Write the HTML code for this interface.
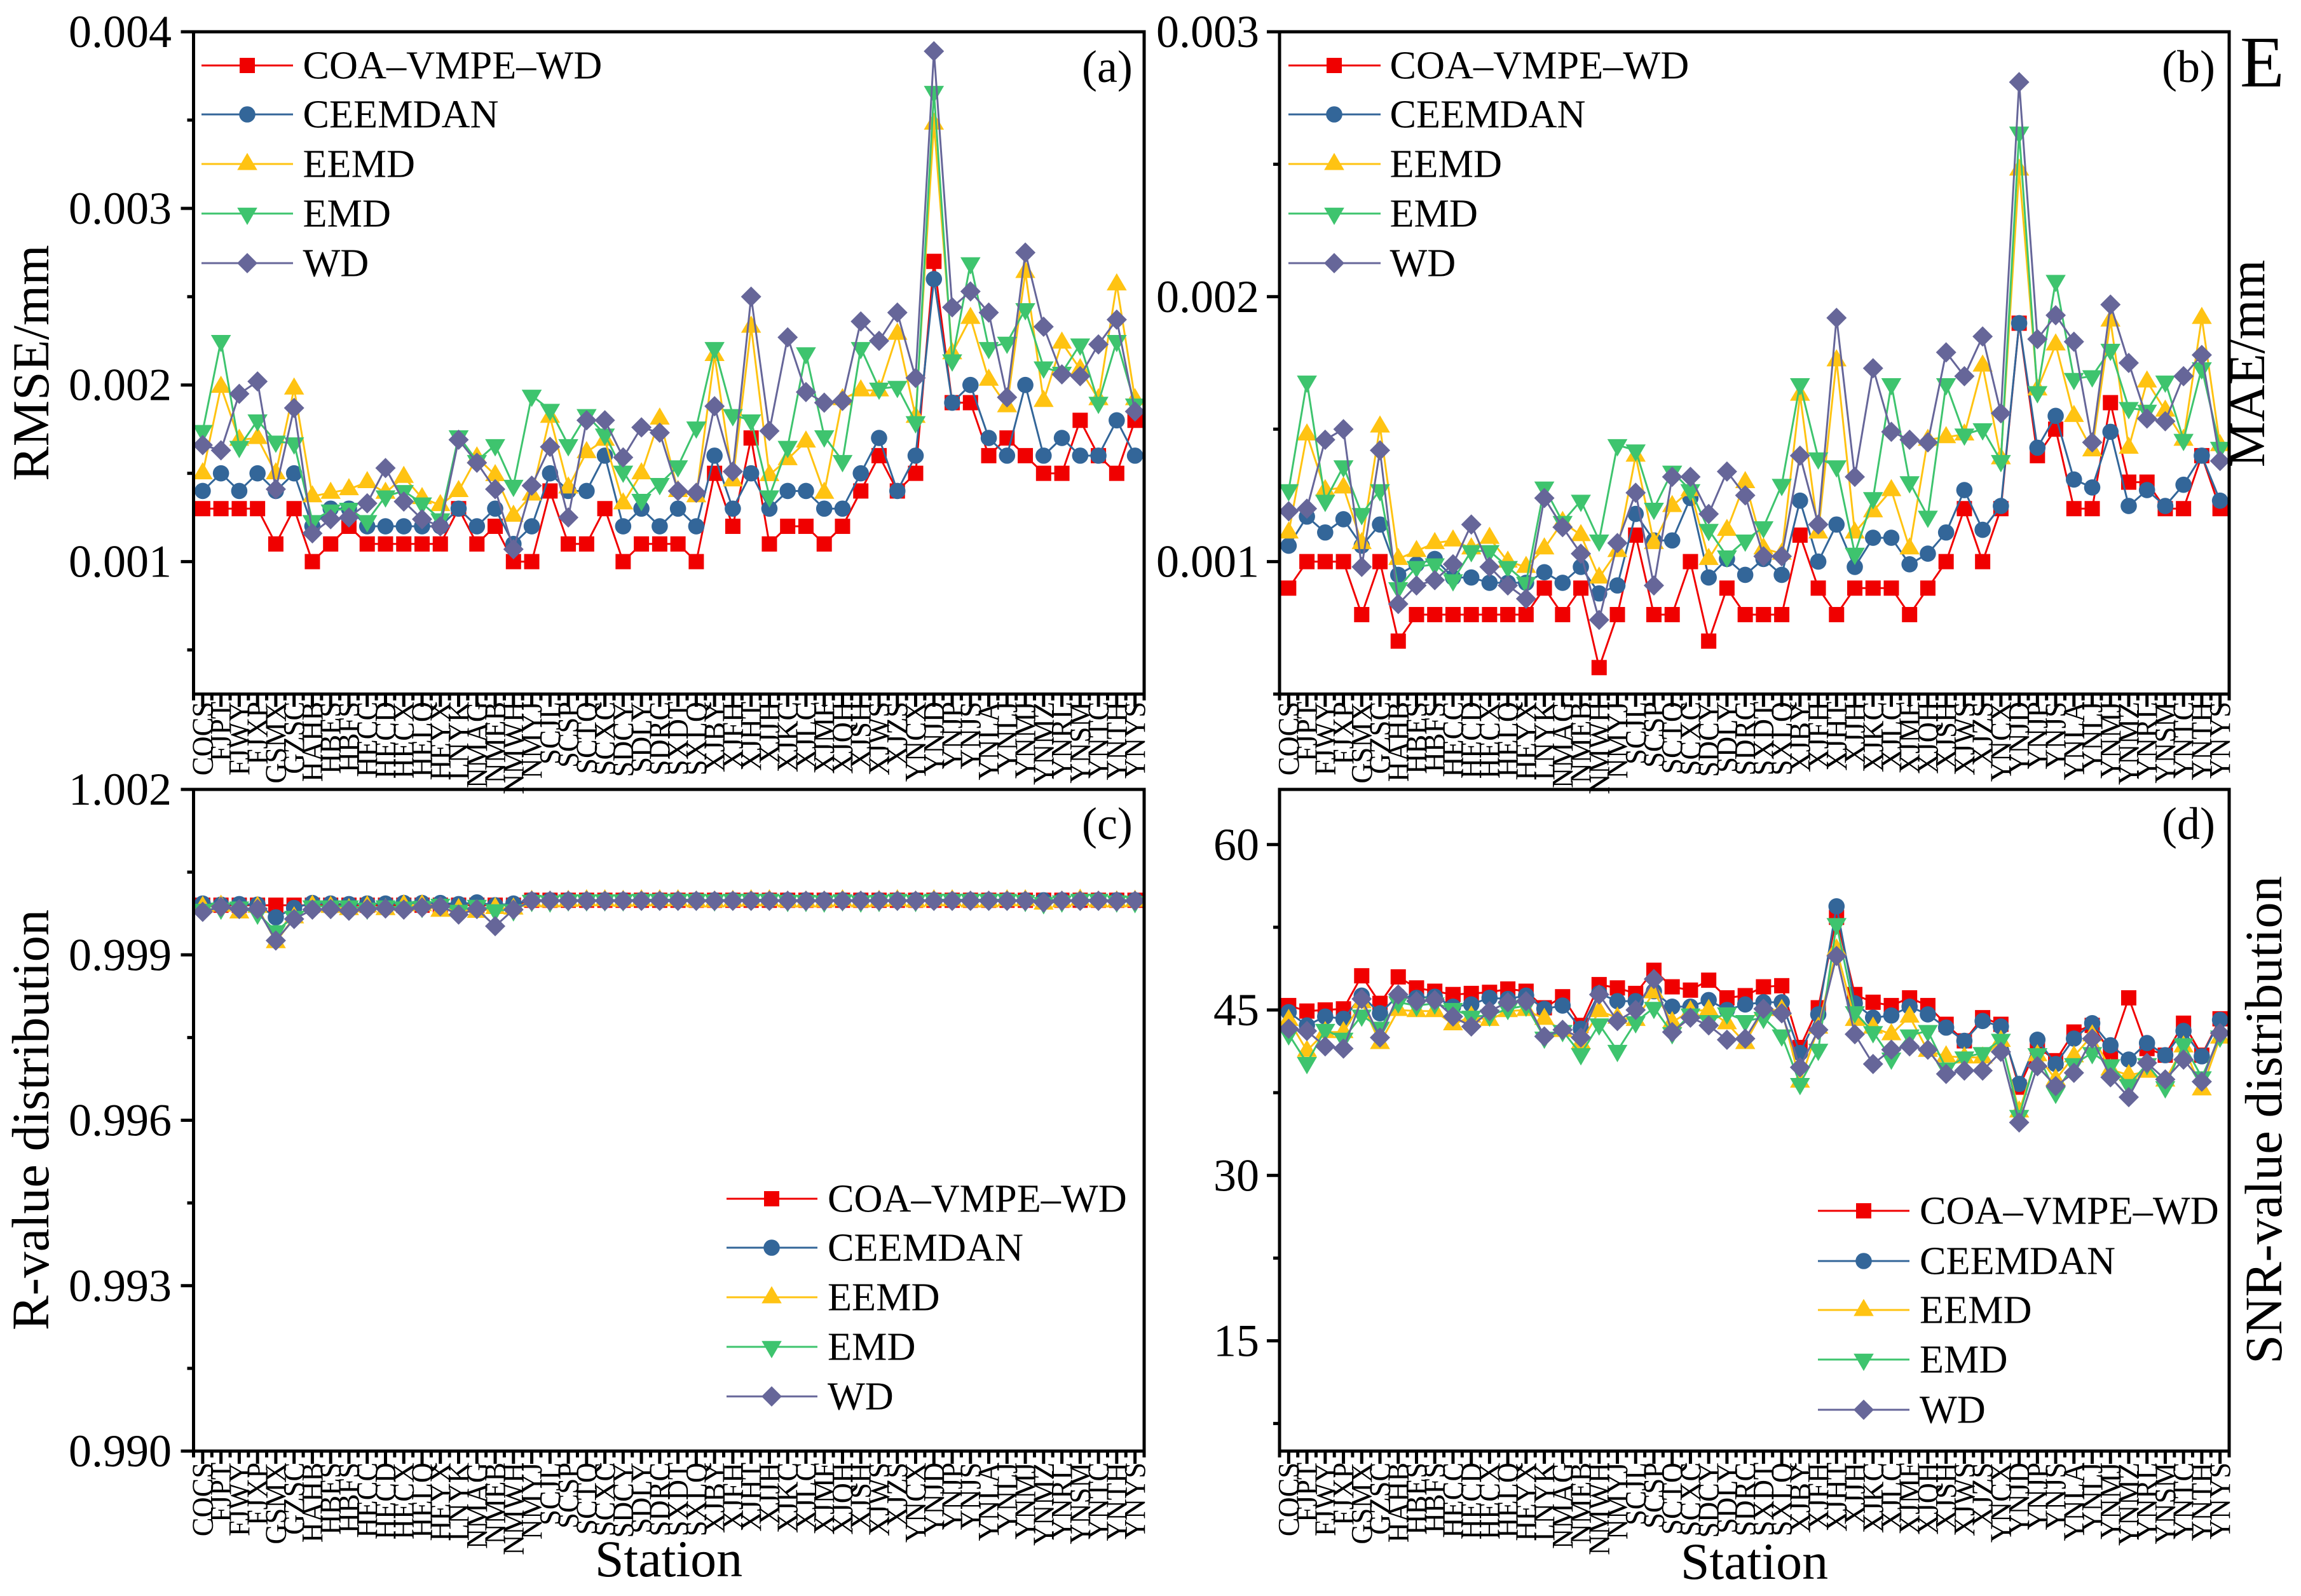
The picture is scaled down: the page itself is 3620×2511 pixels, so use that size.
<!DOCTYPE html>
<html lang="en">
<head>
<meta charset="utf-8">
<title>Denoising method comparison across stations</title>
<style>
html,body{margin:0;padding:0;background:#fff;}
svg{display:block;font-family:"Liberation Serif","Times New Roman",serif;}
</style>
</head>
<body>
<svg id="figure" xmlns="http://www.w3.org/2000/svg" width="3620" height="2511" viewBox="0 0 3620 2511">
<rect x="0" y="0" width="3620" height="2511" fill="#ffffff"/>
<text x="3524" y="136" font-size="114" fill="#000">E</text>
</svg>
<script>
const stations = ["COCS","FJPT","FJWY","FJXP","GSMX","GZSC","HAHB","HBES","HBFS","HECC","HECD","HECX","HELQ","HEYX","LNYK","NMAG","NMEB","NMWH","NMYJ","SCJL","SCSP","SCTQ","SCXC","SDCY","SDLY","SDRC","SXDT","SXLQ","XJBY","XJFH","XJHT","XJJH","XJKC","XJLC","XJMF","XJQH","XJSH","XJWS","XJZS","YNCX","YNJD","YNJP","YNJS","YNLA","YNLJ","YNMJ","YNMZ","YNRL","YNSM","YNTC","YNTH","YNYS"];
const seriesNames = ["COA–VMPE–WD","CEEMDAN","EEMD","EMD","WD"];

/* RMSE, in units of 0.001 mm */
const rmseCoa = [1.3,1.3,1.3,1.3,1.1,1.3,1.0,1.1,1.2,1.1,1.1,1.1,1.1,1.1,1.3,1.1,1.2,1.0,1.0,1.4,1.1,1.1,1.3,1.0,1.1,1.1,1.1,1.0,1.5,1.2,1.7,1.1,1.2,1.2,1.1,1.2,1.4,1.6,1.4,1.5,2.7,1.9,1.9,1.6,1.7,1.6,1.5,1.5,1.8,1.6,1.5,1.8];
const rmseCeemdan = [1.4,1.5,1.4,1.5,1.4,1.5,1.2,1.3,1.3,1.2,1.2,1.2,1.2,1.2,1.3,1.2,1.3,1.1,1.2,1.5,1.4,1.4,1.6,1.2,1.3,1.2,1.3,1.2,1.6,1.3,1.5,1.3,1.4,1.4,1.3,1.3,1.5,1.7,1.4,1.6,2.6,1.9,2.0,1.7,1.6,2.0,1.6,1.7,1.6,1.6,1.8,1.6];
const rmseEemd = [1.5,1.99,1.69,1.7,1.5,1.98,1.37,1.39,1.41,1.45,1.39,1.48,1.36,1.32,1.4,1.59,1.49,1.26,1.38,1.82,1.42,1.62,1.69,1.33,1.5,1.81,1.4,1.37,2.17,1.46,2.33,1.49,1.58,1.68,1.39,1.92,1.97,1.97,2.29,1.82,3.48,2.18,2.38,2.03,1.88,2.64,1.91,2.24,2.09,1.92,2.57,1.92];
const rmseEmd = [1.74,2.25,1.65,1.8,1.68,1.67,1.23,1.29,1.3,1.23,1.37,1.4,1.33,1.24,1.71,1.57,1.66,1.43,1.94,1.86,1.66,1.83,1.72,1.51,1.35,1.44,1.54,1.76,2.21,1.83,1.8,1.37,1.65,2.18,1.71,1.57,2.21,1.98,1.99,1.79,3.66,2.14,2.69,2.21,2.24,2.43,2.1,2.07,2.23,1.9,2.25,1.89];
const rmseWd = [1.66,1.63,1.95,2.02,1.41,1.87,1.16,1.24,1.25,1.33,1.53,1.34,1.24,1.2,1.69,1.56,1.41,1.07,1.43,1.65,1.25,1.8,1.8,1.59,1.76,1.73,1.4,1.39,1.88,1.51,2.5,1.74,2.27,1.96,1.9,1.91,2.36,2.25,2.41,2.04,3.89,2.44,2.53,2.41,1.93,2.75,2.33,2.06,2.05,2.23,2.37,1.85];

/* MAE, in units of 0.001 mm */
const maeCoa = [0.9,1.0,1.0,1.0,0.8,1.0,0.7,0.8,0.8,0.8,0.8,0.8,0.8,0.8,0.9,0.8,0.9,0.6,0.8,1.1,0.8,0.8,1.0,0.7,0.9,0.8,0.8,0.8,1.1,0.9,0.8,0.9,0.9,0.9,0.8,0.9,1.0,1.2,1.0,1.2,1.9,1.4,1.5,1.2,1.2,1.6,1.3,1.3,1.2,1.2,1.4,1.2];
const maeCeemdan = [1.06,1.17,1.11,1.16,1.06,1.14,0.95,0.99,1.01,0.94,0.94,0.92,0.92,0.92,0.96,0.92,0.98,0.88,0.91,1.18,1.08,1.08,1.24,0.94,1.01,0.95,1.01,0.95,1.23,1.0,1.14,0.98,1.09,1.09,0.99,1.03,1.11,1.27,1.12,1.21,1.9,1.43,1.55,1.31,1.28,1.49,1.21,1.27,1.21,1.29,1.4,1.23];
const maeEemd = [1.11,1.48,1.27,1.28,1.07,1.51,1.01,1.04,1.07,1.08,1.05,1.09,1.0,0.98,1.05,1.15,1.1,0.94,1.04,1.4,1.07,1.21,1.27,1.01,1.12,1.3,1.05,1.03,1.63,1.11,1.76,1.11,1.19,1.27,1.05,1.46,1.47,1.48,1.74,1.39,2.48,1.65,1.82,1.55,1.42,1.91,1.43,1.68,1.57,1.46,1.92,1.44];
const maeEmd = [1.27,1.68,1.23,1.36,1.18,1.27,0.9,0.98,0.99,0.93,1.04,1.04,0.98,0.92,1.28,1.15,1.23,1.08,1.44,1.42,1.2,1.34,1.27,1.12,1.02,1.08,1.13,1.29,1.67,1.39,1.36,1.03,1.24,1.67,1.3,1.17,1.67,1.48,1.5,1.38,2.62,1.64,2.06,1.69,1.7,1.8,1.58,1.57,1.68,1.46,1.73,1.43];
const maeWd = [1.19,1.2,1.46,1.5,0.98,1.42,0.84,0.91,0.93,0.99,1.14,0.98,0.91,0.86,1.24,1.13,1.03,0.78,1.07,1.26,0.91,1.32,1.32,1.18,1.34,1.25,1.02,1.02,1.4,1.14,1.92,1.32,1.73,1.49,1.46,1.45,1.79,1.7,1.85,1.56,2.81,1.84,1.93,1.83,1.45,1.97,1.75,1.54,1.53,1.7,1.78,1.38];

/* R value */
const rCoa = [0.9999,0.9999,0.9999,0.9999,0.9999,0.9999,0.9999,0.9999,0.9999,0.9999,0.9999,0.9999,0.9999,0.9999,0.9999,0.9999,0.9999,0.9999,0.99999,0.99999,0.99999,0.99999,0.99999,0.99999,0.99999,0.99999,0.99999,0.99999,0.99999,0.99999,0.99999,0.99999,0.99999,0.99999,0.99999,0.99999,0.99999,0.99999,0.99999,0.99999,0.99999,0.99999,0.99999,0.99999,0.99999,0.99999,0.99999,0.99999,0.99999,0.99999,0.99999,0.99999];
const rCeemdan = [0.99993,0.99991,0.99992,0.99991,0.99968,0.99985,0.99994,0.99993,0.99992,0.99993,0.99993,0.99994,0.99994,0.99994,0.99992,0.99995,0.9999,0.99993,0.99999,0.99999,0.99999,0.99999,0.99999,0.99999,0.99999,0.99999,0.99999,0.99999,0.99999,0.99999,0.99999,0.99999,0.99999,0.99999,0.99999,0.99999,0.99999,0.99999,0.99999,0.99999,0.99999,0.99999,0.99999,0.99999,0.99999,0.99999,0.99999,0.99999,0.99999,0.99999,0.99999,0.99999];
const rEemd = [0.99987,0.99989,0.99977,0.99987,0.99923,0.99968,0.99989,0.99987,0.99983,0.99988,0.99983,0.9999,0.9999,0.9998,0.99983,0.99978,0.99985,0.99984,0.99998,0.99997,0.99998,0.99999,0.99999,0.99998,0.99999,0.99999,0.99999,0.99997,0.99997,0.99998,0.99999,0.99999,0.99997,0.99997,0.99997,0.99999,0.99997,0.99998,0.99999,0.99997,0.99999,0.99999,0.99997,0.99997,0.99999,0.99999,0.99993,0.99997,1.0,0.99997,0.99997,0.99998];
const rEmd = [0.99982,0.99984,0.99986,0.99975,0.99943,0.99969,0.99988,0.99988,0.99988,0.99984,0.99988,0.99986,0.99987,0.99991,0.9998,0.99989,0.99981,0.99981,0.99998,0.99997,0.99999,0.99999,0.99999,0.99999,1.0,1.0,1.0,1.0,0.99999,1.0,1.0,1.0,0.99998,0.99998,0.99997,0.99999,0.99997,0.99998,1.0,0.99998,1.0,1.0,1.0,1.0,1.0,0.99998,0.99994,0.99997,1.0,1.0,0.99997,0.99996];
const rWd = [0.99978,0.99987,0.99983,0.99983,0.99926,0.99965,0.99982,0.99983,0.9998,0.99983,0.99984,0.99982,0.99986,0.99988,0.99973,0.99983,0.99952,0.99982,0.99998,0.99998,0.99998,0.99998,0.99998,0.99998,0.99998,0.99998,0.99998,0.99998,0.99998,0.99998,0.99998,0.99998,0.99998,0.99998,0.99998,0.99998,0.99998,0.99998,0.99998,0.99998,0.99998,0.99998,0.99998,0.99998,0.99998,0.99998,0.99995,0.99998,0.99998,0.99998,0.99997,0.99998];

/* SNR */
const snrCoa = [45.4,44.9,45.0,45.1,48.1,45.6,48.0,47.0,46.7,46.4,46.5,46.6,46.9,46.7,45.2,46.2,43.6,47.3,47.0,46.5,48.6,47.1,46.8,47.7,46.1,46.3,47.1,47.2,41.6,45.2,53.4,46.4,45.7,45.4,46.1,45.4,43.7,42.2,44.3,43.7,38.0,41.7,40.4,43.0,43.6,41.2,46.1,41.5,40.9,43.8,40.9,44.2];
const snrCeemdan = [44.8,43.6,44.4,44.2,46.3,44.7,46.3,46.1,46.2,45.3,45.5,46.1,46.0,46.3,45.1,45.4,43.3,46.5,45.8,45.8,46.7,45.3,45.3,45.9,45.0,45.5,45.7,45.7,41.1,44.6,54.4,45.6,44.3,44.5,45.3,44.6,43.4,42.2,44.0,43.5,38.3,42.3,40.1,42.4,43.8,41.8,40.5,42.0,40.9,43.1,40.8,44.1];
const snrEemd = [44.1,41.3,43.0,43.0,45.7,42.0,45.0,44.9,44.9,43.7,44.4,44.1,44.9,45.0,44.2,43.1,42.0,44.9,44.3,44.1,46.6,43.9,44.9,45.0,43.8,42.0,45.0,45.0,38.5,43.4,50.5,44.1,43.4,42.8,44.4,41.3,40.8,40.7,40.7,42.2,35.8,40.9,38.7,40.8,42.7,39.6,39.1,39.4,38.6,41.7,37.8,42.5];
const snrEmd = [42.8,40.2,43.2,42.4,44.5,43.4,45.7,45.4,45.6,45.1,44.4,44.5,45.1,45.4,42.5,43.1,41.0,43.7,41.3,43.9,45.2,42.9,44.6,44.0,44.7,44.0,44.3,42.7,38.3,41.4,52.8,44.8,43.0,40.6,42.7,43.1,39.7,40.7,41.1,42.3,35.4,41.0,37.5,40.1,41.1,40.0,38.2,40.1,38.0,41.9,38.9,42.6];
const snrWd = [43.3,43.1,41.7,41.5,46.0,42.5,46.4,45.8,45.9,44.4,43.5,44.9,45.7,45.8,42.6,43.2,42.5,46.4,44.0,45.0,47.8,43.0,44.3,43.6,42.3,42.4,45.1,44.7,39.8,43.2,49.9,42.8,40.1,41.4,41.7,41.4,39.2,39.5,39.5,41.2,34.8,39.9,38.1,39.3,42.4,38.9,37.1,40.2,38.7,40.5,38.5,42.9];

/* Axis ticks */
const rmseMajorTicks = [1,2,3,4];
const rmseMinorTicks = [0.5,1.5,2.5,3.5];
const rmseTickLabels = ["0.001","0.002","0.003","0.004"];
const maeMajorTicks = [1,2,3];
const maeMinorTicks = [0.5,1.5,2.5];
const maeTickLabels = ["0.001","0.002","0.003"];
const rMajorTicks = [0.990,0.993,0.996,0.999,1.002];
const rMinorTicks = [0.9915,0.9945,0.9975,1.0005];
const rTickLabels = ["0.990","0.993","0.996","0.999","1.002"];
const snrMajorTicks = [15,30,45,60];
const snrMinorTicks = [7.5,22.5,37.5,52.5];
const snrTickLabels = ["15","30","45","60"];

const colors = ["#f00000","#336699","#ffc312","#3ec46e","#666699"];
const shapes = ["square","circle","up","down","diamond"];
const keys = ["coa-vmpe-wd","ceemdan","eemd","emd","wd"];

const panels = [
  {id:"a",L:304.5,R:1800,T:50,B:1092,d0:0.25,d1:4,series:[rmseCoa,rmseCeemdan,rmseEemd,rmseEmd,rmseWd],major:rmseMajorTicks,minor:rmseMinorTicks,labels:rmseTickLabels,labX:270,stationY:1104,tagX:1702,tagY:129,legLine:[317,461],legMark:389,legText:476.5,legRow:[103,180,258,336,414]},
  {id:"b",L:2013,R:3507,T:50,B:1092,d0:0.5,d1:3,series:[maeCoa,maeCeemdan,maeEemd,maeEmd,maeWd],major:maeMajorTicks,minor:maeMinorTicks,labels:maeTickLabels,labX:1981,stationY:1104,tagX:3401,tagY:129,legLine:[2027,2172],legMark:2099,legText:2186.5,legRow:[103,180,258,336,414]},
  {id:"c",L:304.5,R:1800,T:1242,B:2283,d0:0.990,d1:1.002,series:[rCoa,rCeemdan,rEemd,rEmd,rWd],major:rMajorTicks,minor:rMinorTicks,labels:rTickLabels,labX:270,stationY:2301,tagX:1702,tagY:1320,legLine:[1143,1286],legMark:1214,legText:1302,legRow:[1886,1963,2041,2119,2197]},
  {id:"d",L:2013,R:3507,T:1242,B:2283,d0:5,d1:65,series:[snrCoa,snrCeemdan,snrEemd,snrEmd,snrWd],major:snrMajorTicks,minor:snrMinorTicks,labels:snrTickLabels,labX:1981,stationY:2301,tagX:3401,tagY:1320,legLine:[2860,3004],legMark:2932,legText:3020,legRow:[1905,1984,2061,2139,2218]}
];

const NS = "http://www.w3.org/2000/svg";
const root = document.getElementById("figure");

function make(tag, attrs, parent){
  const el = document.createElementNS(NS, tag);
  for(const k in attrs){ el.setAttribute(k, attrs[k]); }
  parent.appendChild(el);
  return el;
}
function xScale(p, i){ return p.L + (i + 0.5) * (p.R - p.L) / stations.length; }
function yScale(p, v){ return p.B - (v - p.d0) / (p.d1 - p.d0) * (p.B - p.T); }

function drawMarker(parent, kind, cx, cy, fill){
  if(kind === "square"){ return make("rect",{x:cx-12,y:cy-12,width:24,height:24,fill:fill},parent); }
  if(kind === "circle"){ return make("circle",{cx:cx,cy:cy,r:12.8,fill:fill},parent); }
  if(kind === "up"){ return make("polygon",{points:`${cx},${cy-17.5} ${cx+15.8},${cy+9.5} ${cx-15.8},${cy+9.5}`,fill:fill},parent); }
  if(kind === "down"){ return make("polygon",{points:`${cx},${cy+18} ${cx+15.8},${cy-9.3} ${cx-15.8},${cy-9.3}`,fill:fill},parent); }
  return make("polygon",{points:`${cx},${cy-16} ${cx+16},${cy} ${cx},${cy+16} ${cx-16},${cy}`,fill:fill},parent);
}

panels.forEach(function(p){
  const g = make("g",{},root);
  
  

  /* series lines and markers */
  p.series.forEach(function(vals, s){
    const sg = make("g",{},g);
    
    
    const pts = vals.map(function(v,i){ return xScale(p,i).toFixed(1) + "," + yScale(p,v).toFixed(1); }).join(" ");
    const line = make("polyline",{points:pts,fill:"none",stroke:colors[s],"stroke-width":3,"stroke-linejoin":"round"},sg);
    
    
    vals.forEach(function(v,i){
      const m = drawMarker(sg, shapes[s], xScale(p,i), yScale(p,v), colors[s]);
      
      
    });
  });

  /* frame */
  const frame = make("rect",{x:p.L,y:p.T,width:p.R-p.L,height:p.B-p.T,fill:"none",stroke:"#000","stroke-width":5},g);
  
  

  /* y ticks */
  p.major.forEach(function(v,i){
    const y = yScale(p,v);
    const t = make("line",{x1:p.L-20,x2:p.L,y1:y,y2:y,stroke:"#000","stroke-width":5},g);
    
    
    const lab = make("text",{x:p.labX,y:y+24,"font-size":72,"text-anchor":"end",fill:"#000"},g);
    
    
    lab.textContent = p.labels[i];
  });
  p.minor.forEach(function(v){
    const y = yScale(p,v);
    const t = make("line",{x1:p.L-10,x2:p.L,y1:y,y2:y,stroke:"#000","stroke-width":5},g);
    
    
  });

  /* x ticks and station labels */
  const step = (p.R - p.L) / stations.length;
  stations.forEach(function(name,i){
    const x = xScale(p,i);
    const t = make("line",{x1:x,x2:x,y1:p.B,y2:p.B+20,stroke:"#000","stroke-width":5},g);
    
    
    const mt = make("line",{x1:x-step/2,x2:x-step/2,y1:p.B,y2:p.B+10,stroke:"#000","stroke-width":5},g);
    
    
    const lx = x + 16;
    const lab = make("text",{x:0,y:0,"font-size":44.5,"text-anchor":"end",fill:"#000",transform:`translate(${lx} ${p.stationY}) rotate(-90) scale(1 1.06)`},g);
    
    
    lab.textContent = name;
  });
  const endT = make("line",{x1:p.R,x2:p.R,y1:p.B,y2:p.B+10,stroke:"#000","stroke-width":5},g);
  
  

  /* panel tag */
  const tag = make("text",{x:p.tagX,y:p.tagY,"font-size":72,fill:"#000"},g);
  
  
  tag.textContent = "(" + p.id + ")";

  /* legend */
  const leg = make("g",{},g);
  
  
  seriesNames.forEach(function(name,s){
    const y = p.legRow[s];
    const row = make("g",{},leg);
    
    
    const ll = make("line",{x1:p.legLine[0],x2:p.legLine[1],y1:y,y2:y,stroke:colors[s],"stroke-width":3},row);
    
    
    const lm = drawMarker(row, shapes[s], p.legMark, y, colors[s]);
    
    
    const lt = make("text",{x:p.legText,y:y+20.5,"font-size":62.3,fill:"#000"},row);
    
    
    lt.textContent = name;
  });
});

/* axis titles */
const rmseTitle = make("text",{x:76,y:571,"font-size":81.5,"text-anchor":"middle",fill:"#000",transform:"rotate(-90 76 571)"},root);


rmseTitle.textContent = "RMSE/mm";

const maeTitle = make("text",{x:3562,y:572,"font-size":80.5,"text-anchor":"middle",fill:"#000",transform:"rotate(-90 3562 572)"},root);


maeTitle.textContent = "MAE/mm";

const rTitle = make("text",{x:76,y:1762,"font-size":82.5,"text-anchor":"middle",fill:"#000",transform:"rotate(-90 76 1762)"},root);


rTitle.textContent = "R-value distribution";

const snrTitle = make("text",{x:3589,y:1762,"font-size":82.5,"text-anchor":"middle",fill:"#000",transform:"rotate(-90 3589 1762)"},root);


snrTitle.textContent = "SNR-value distribution";

const stationTitleC = make("text",{x:1052,y:2480,"font-size":82,"text-anchor":"middle",fill:"#000"},root);


stationTitleC.textContent = "Station";

const stationTitleD = make("text",{x:2760,y:2484,"font-size":82,"text-anchor":"middle",fill:"#000"},root);


stationTitleD.textContent = "Station";
</script>
</body>
</html>
